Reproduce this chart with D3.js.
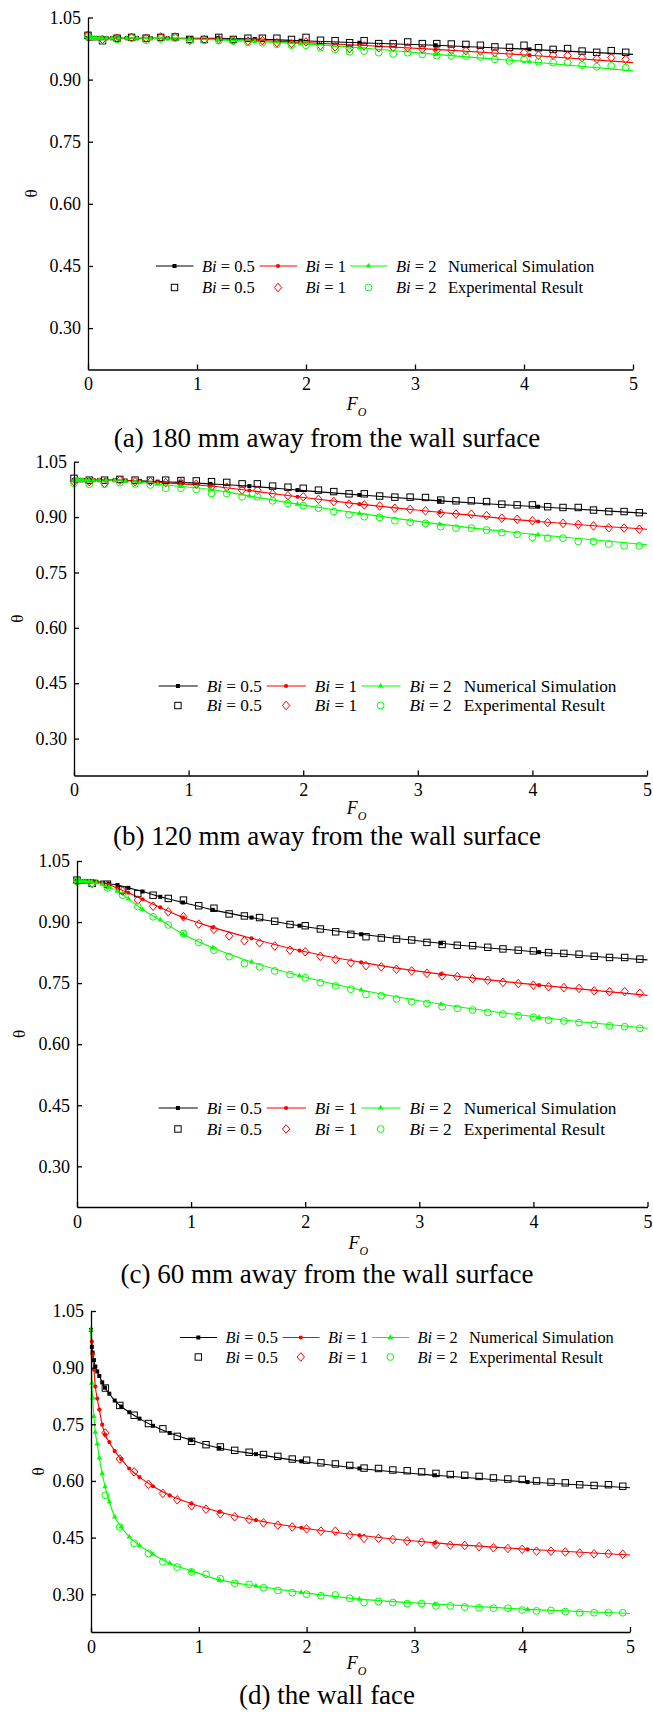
<!DOCTYPE html>
<html>
<head>
<meta charset="utf-8">
<script src="https://cdnjs.cloudflare.com/ajax/libs/d3/7.8.5/d3.min.js"></script>
<style>
  html, body { margin: 0; padding: 0; background: #fff; }
  svg text { font-family: "Liberation Serif", "Times New Roman", serif; white-space: pre; }
</style>
</head>
<body>
<div id="chart"></div>
<script>
// ---- data ----
var xTicks = [0, 1, 2, 3, 4, 5];
var yTicks = [0.30, 0.45, 0.60, 0.75, 0.90, 1.05];
var biLabels = ["0.5", "1", "2"];
var titles = ["(a) 180 mm away from the wall surface", "(b) 120 mm away from the wall surface",
              "(c) 60 mm away from the wall surface", "(d) the wall face"];

// Fo where the numerical simulation was output (and marked)
var foSim = [0, 0.008, 0.015, 0.027, 0.04, 0.058, 0.077, 0.104, 0.13, 0.17, 0.22, 0.28,
             0.355, 0.45, 0.575, 0.73, 0.93, 1.19, 1.53, 1.95, 2.49, 3.19, 4.05, 5];
// Fo of the measurements
var foExp = [0, 0.133, 0.267, 0.4, 0.533, 0.667, 0.8, 0.933, 1.067, 1.2, 1.333, 1.467, 1.6,
             1.733, 1.867, 2.0, 2.133, 2.267, 2.4, 2.533, 2.667, 2.8, 2.933, 3.067, 3.2,
             3.333, 3.467, 3.6, 3.733, 3.867, 4.0, 4.133, 4.267, 4.4, 4.533, 4.667, 4.8, 4.933];

// (a) 180 mm
var simA05 = [1,1,1,1,1,1,1,1,1,1,1,1,1,1,1,1,1,1,0.998,0.994,0.989,0.983,0.973,0.961];
var simA1  = [1,1,1,1,1,1,1,1,1,1,1,1,1,1,1,1,0.999,0.998,0.995,0.99,0.983,0.973,0.959,0.941];
var simA2  = [1,1,1,1,1,1,1,1,1,1,1,1,1,1,0.999,0.999,0.998,0.996,0.992,0.987,0.977,0.961,0.943,0.921];
var expA05 = [1.007,0.994,1.0,1.002,1.0,1.002,1.003,0.997,0.997,1.002,0.997,1.0,1.0,1.0,0.997,1.002,0.995,0.994,0.989,0.994,
              0.987,0.987,0.991,0.987,0.987,0.986,0.985,0.983,0.979,0.978,0.983,0.977,0.973,0.975,0.969,0.966,0.97,0.966];
var expA1  = [1.007,0.997,1.0,1.002,1.0,1.003,1.003,0.995,0.997,0.997,0.995,0.993,0.994,0.989,0.987,0.991,0.982,0.979,0.975,0.981,
              0.977,0.978,0.977,0.974,0.971,0.971,0.97,0.969,0.965,0.962,0.965,0.959,0.959,0.958,0.953,0.95,0.953,0.949];
var expA2  = [1.003,0.994,0.997,1.0,0.995,0.998,1.0,0.994,0.995,0.994,0.993,0.99,0.989,0.985,0.983,0.983,0.977,0.973,0.967,0.969,
              0.965,0.962,0.965,0.961,0.958,0.957,0.957,0.955,0.949,0.945,0.949,0.943,0.941,0.941,0.935,0.931,0.933,0.929];

// (b) 120 mm
var simB05 = [1,1,1,1,1,1,1,1,1,1,1,1,1,0.999,0.998,0.996,0.994,0.99,0.984,0.973,0.96,0.944,0.928,0.91];
var simB1  = [1,1,1,1,1,1,1,1,1,1,1,1,1,0.999,0.997,0.994,0.99,0.984,0.972,0.955,0.935,0.913,0.888,0.867];
var simB2  = [1,1,1,1,1,1,1,1,1,1,1,1,0.999,0.997,0.994,0.989,0.983,0.975,0.957,0.935,0.91,0.881,0.852,0.825];
var expB05 = [1.005,1.0,1.0,1.002,1.0,1.0,1.0,0.999,0.998,0.996,0.994,0.99,0.99,0.984,0.981,0.978,0.973,0.969,0.963,0.963,
              0.957,0.954,0.954,0.953,0.946,0.944,0.944,0.942,0.935,0.933,0.933,0.928,0.926,0.926,0.919,0.915,0.915,0.912];
var expB1  = [0.996,0.996,0.991,1.0,0.996,0.996,0.993,0.993,0.989,0.982,0.981,0.973,0.973,0.963,0.958,0.955,0.948,0.942,0.935,0.933,
              0.93,0.924,0.921,0.917,0.91,0.908,0.908,0.904,0.897,0.894,0.89,0.885,0.883,0.88,0.876,0.871,0.87,0.867];
var expB2  = [0.991,0.989,0.989,0.993,0.99,0.987,0.978,0.978,0.975,0.964,0.964,0.955,0.955,0.944,0.937,0.931,0.924,0.915,0.906,0.901,
              0.899,0.89,0.886,0.883,0.874,0.87,0.87,0.865,0.858,0.853,0.845,0.843,0.843,0.834,0.834,0.827,0.822,0.822];

// (c) 60 mm
var simC05 = [1,1,1,1,1,1,1,1,1,0.999,0.997,0.994,0.991,0.984,0.975,0.962,0.948,0.93,0.911,0.891,0.87,0.848,0.826,0.807];
var simC1  = [1,1,1,1,1,1,1,1,1,0.998,0.996,0.992,0.983,0.972,0.956,0.936,0.911,0.887,0.86,0.83,0.801,0.772,0.745,0.72];
var simC2  = [1,1,1,1,1,1,1,1,0.999,0.997,0.993,0.986,0.976,0.957,0.931,0.905,0.87,0.837,0.802,0.768,0.733,0.698,0.666,0.639];
var expC05 = [1.003,0.995,0.993,0.979,0.97,0.966,0.958,0.954,0.94,0.934,0.92,0.915,0.911,0.902,0.894,0.891,0.883,0.876,0.87,0.864,
              0.861,0.858,0.856,0.85,0.845,0.843,0.842,0.838,0.834,0.831,0.829,0.825,0.823,0.821,0.816,0.813,0.813,0.809];
var expC1  = [1.0,0.995,0.991,0.976,0.954,0.939,0.925,0.913,0.895,0.882,0.866,0.854,0.849,0.841,0.831,0.827,0.816,0.808,0.8,0.793,
              0.79,0.784,0.78,0.774,0.768,0.766,0.761,0.757,0.752,0.749,0.745,0.741,0.739,0.737,0.731,0.729,0.729,0.725];
var expC2  = [1.0,0.995,0.984,0.966,0.938,0.913,0.893,0.872,0.85,0.831,0.815,0.798,0.79,0.78,0.771,0.763,0.751,0.743,0.735,0.722,
              0.719,0.711,0.704,0.7,0.692,0.688,0.684,0.678,0.674,0.67,0.666,0.659,0.657,0.653,0.648,0.645,0.643,0.639];

// (d) wall face
var simD05 = [1,0.955,0.94,0.92,0.903,0.89,0.878,0.861,0.847,0.831,0.813,0.797,0.782,0.765,0.746,0.727,0.708,0.687,0.671,0.652,0.633,0.615,0.597,0.582];
var simD1  = [1,0.969,0.935,0.895,0.85,0.818,0.789,0.749,0.723,0.703,0.679,0.658,0.633,0.61,0.586,0.562,0.54,0.518,0.496,0.476,0.456,0.436,0.419,0.404];
var simD2  = [1,0.859,0.82,0.771,0.729,0.698,0.661,0.62,0.585,0.545,0.505,0.478,0.452,0.429,0.406,0.382,0.362,0.338,0.322,0.305,0.287,0.274,0.26,0.249];
var expD05 = [null,0.846,0.80,0.774,0.752,0.738,0.718,0.705,0.696,0.69,0.681,0.676,0.67,0.665,0.658,0.655,0.648,0.645,0.641,0.634,
              0.633,0.629,0.627,0.624,0.62,0.617,0.615,0.612,0.608,0.605,0.604,0.6,0.597,0.595,0.59,0.588,0.59,0.586];
var expD1  = [null,0.727,0.658,0.624,0.591,0.567,0.55,0.534,0.525,0.513,0.505,0.498,0.489,0.483,0.478,0.473,0.467,0.467,0.457,0.448,
              0.448,0.445,0.441,0.438,0.432,0.43,0.429,0.426,0.423,0.421,0.419,0.414,0.414,0.412,0.409,0.407,0.407,0.406];
var expD2  = [null,0.562,0.478,0.435,0.408,0.386,0.372,0.359,0.353,0.341,0.329,0.326,0.317,0.31,0.304,0.3,0.296,0.298,0.289,0.278,
              0.281,0.278,0.275,0.275,0.269,0.269,0.266,0.264,0.263,0.263,0.258,0.256,0.257,0.254,0.251,0.251,0.251,0.251];

var simData = [[simA05, simA1, simA2], [simB05, simB1, simB2], [simC05, simC1, simC2], [simD05, simD1, simD2]];
var expData = [[expA05, expA1, expA2], [expB05, expB1, expB2], [expC05, expC1, expC2], [expD05, expD1, expD2]];

// ---- layout (pixels) ----
var W = 653, H = 1712;
var colors = ["#000000", "#ff0000", "#00ff00"];
var layout = [
  {x0: 88, x1: 633, yTop: 17.5, yBot: 369.5, legX: 156,   legY: 266,  legGap: 21.5, legK: 1.0,   titleY: 447,  foDy: 40, thX: 31},
  {x0: 74, x1: 647, yTop: 461.7, yBot: 775.5, legX: 158.6, legY: 686,  legGap: 19.5, legK: 1.045, titleY: 845, foDy: 38, thX: 17},
  {x0: 77, x1: 647.5, yTop: 861, yBot: 1207, legX: 158.6, legY: 1108, legGap: 21, legK: 1.045, titleY: 1283, foDy: 42, thX: 19},
  {x0: 91, x1: 630, yTop: 1311, yBot: 1632,  legX: 180,   legY: 1337.5, legGap: 19.5, legK: 0.99, titleY: 1704, foDy: 37, thX: 38}
];

var svg = d3.select("#chart").append("svg")
  .attr("width", W).attr("height", H)
  .style("display", "block");
svg.append("rect").attr("width", W).attr("height", H).attr("fill", "#fff");

// filled marker for simulation, open marker for experiment
function simMarker(g, i, cx, cy) {
  if (i == 0) {
    g.append("rect").attr("x", cx - 2).attr("y", cy - 2).attr("width", 4).attr("height", 4)
      .attr("fill", colors[i]);
  } else if (i == 1) {
    g.append("circle").attr("cx", cx).attr("cy", cy).attr("r", 2.1).attr("fill", colors[i]);
  } else {
    g.append("path").attr("transform", "translate(" + cx + "," + cy + ")")
      .attr("d", d3.symbol(d3.symbolTriangle, 13)()).attr("fill", colors[i]);
  }
}
function expMarker(g, i, cx, cy) {
  if (i == 0) {
    g.append("rect").attr("x", cx - 3.2).attr("y", cy - 3.2).attr("width", 6.4).attr("height", 6.4)
      .attr("fill", "none").attr("stroke", colors[i]).attr("stroke-width", 1);
  } else if (i == 1) {
    g.append("path").attr("d", "M" + cx + "," + (cy - 4.3) + "L" + (cx + 3.7) + "," + cy + "L" + cx + "," + (cy + 4.3) + "L" + (cx - 3.7) + "," + cy + "Z")
      .attr("fill", "none").attr("stroke", colors[i]).attr("stroke-width", 1);
  } else {
    g.append("circle").attr("cx", cx).attr("cy", cy).attr("r", 3.4)
      .attr("fill", "none").attr("stroke", colors[i]).attr("stroke-width", 1);
  }
}

layout.forEach(function(L, p) {
  var x = d3.scaleLinear().domain([0, 5]).range([L.x0, L.x1]);
  var y = d3.scaleLinear().domain([0.2, 1.05]).range([L.yBot, L.yTop]);
  var g = svg.append("g");

  // lines
  var line = d3.line().x(function(d) { return x(d[0]); }).y(function(d) { return y(d[1]); })
    .curve(d3.curveMonotoneX);
  simData[p].forEach(function(vals, i) {
    var pts = foSim.map(function(f, k) { return [f, vals[k]]; });
    g.append("path").datum(pts).attr("d", line)
      .attr("fill", "none").attr("stroke", colors[i]).attr("stroke-width", 1.1);
  });
  // experiment markers
  expData[p].forEach(function(vals, i) {
    foExp.forEach(function(f, k) {
      if (vals[k] == null) return;
      expMarker(g, i, x(f), y(vals[k]));
    });
  });
  // simulation markers (not at the last point)
  simData[p].forEach(function(vals, i) {
    foSim.forEach(function(f, k) {
      if (k == foSim.length - 1) return;
      simMarker(g, i, x(f), y(vals[k]));
    });
  });

  // axes, ticks pointing inwards
  var yAxis = d3.axisLeft(y).tickValues(yTicks).tickFormat(d3.format(".2f"))
    .tickSize(-5).tickSizeOuter(0).tickPadding(7);
  var xAxis = d3.axisBottom(x).tickValues(xTicks).tickFormat(d3.format("d"))
    .tickSize(-5).tickSizeOuter(0).tickPadding(8);
  var ya = g.append("g").attr("transform", "translate(" + L.x0 + ",0)").call(yAxis);
  var xa = g.append("g").attr("transform", "translate(0," + L.yBot + ")").call(xAxis);
  [ya, xa].forEach(function(a) {
    a.selectAll("path, line").attr("stroke", "#000").attr("stroke-width", 1.3);
    a.selectAll("text").attr("fill", "#000").style("font-size", "18px")
      .style("font-family", "'Liberation Serif', 'Times New Roman', serif");
  });

  // axis titles
  var fo = g.append("text").attr("x", (L.x0 + L.x1) / 2 - 4).attr("y", L.yBot + L.foDy)
    .attr("text-anchor", "middle").style("font-size", "18px");
  fo.append("tspan").style("font-style", "italic").text("F");
  fo.append("tspan").style("font-style", "italic").style("font-size", "12px").attr("dy", 6).text("O");
  g.append("text").attr("transform", "translate(" + L.thX + "," + (L.yTop + L.yBot) / 2 + ") rotate(-90)")
    .attr("text-anchor", "middle").attr("dy", "0.35em").style("font-size", "17px").text("θ");

  // legend
  var k = L.legK, fs = 16.5 * k;
  var cols = [0, 103.5 * k, 194 * k];
  [0, 1].forEach(function(row) {
    var ry = L.legY + row * L.legGap;
    biLabels.forEach(function(b, i) {
      var lx = L.legX + cols[i];
      if (row == 0) {
        g.append("line").attr("x1", lx).attr("x2", lx + 37.5 * k).attr("y1", ry).attr("y2", ry)
          .attr("stroke", colors[i]).attr("stroke-width", 1.1);
        simMarker(g, i, lx + 18.5 * k, ry);
      } else {
        expMarker(g, i, lx + 18.5 * k, ry);
      }
      var t = g.append("text").attr("x", lx + 46 * k).attr("y", ry + 5.5).style("font-size", fs + "px");
      t.append("tspan").style("font-style", "italic").text("Bi");
      t.append("tspan").text(" = " + b);
    });
    g.append("text").attr("x", L.legX + 292 * k).attr("y", ry + 5.5).style("font-size", fs + "px")
      .text(row == 0 ? "Numerical Simulation" : "Experimental Result");
  });

  // panel caption
  svg.append("text").attr("x", 327).attr("y", L.titleY).attr("text-anchor", "middle")
    .style("font-size", "27px").text(titles[p]);
});
</script>
</body>
</html>
